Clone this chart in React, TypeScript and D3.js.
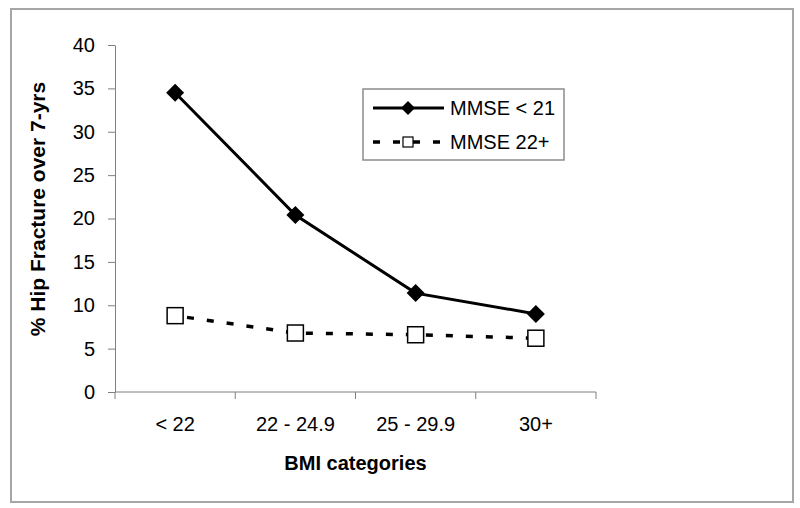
import React, { useEffect, useRef } from 'react';
import * as d3 from 'd3';

const categories = ['< 22', '22 - 24.9', '25 - 29.9', '30+'];
const mmseLow = [34.5, 20.4, 11.4, 9.0];
const mmseHigh = [8.8, 6.8, 6.6, 6.2];
const yTicks = [0, 5, 10, 15, 20, 25, 30, 35, 40];
const seriesNames = ['MMSE < 21', 'MMSE 22+'];

const FONT = '"Liberation Sans", Arial, sans-serif';

const diamondPath = (r) => `M0,${-r}L${r},0L0,${r}L${-r},0Z`;

const App = () => {
    const ref = useRef<SVGSVGElement>(null);

    const graph = () => {
        const svg = d3.select(ref.current);
        svg.selectAll('*').remove();

        const width = 800, height = 508;
        const margin = { top: 45, right: 204, bottom: 116, left: 115 };

        // outer frame
        svg.append('rect')
            .attr('x', 11).attr('y', 9)
            .attr('width', 782).attr('height', 493)
            .attr('fill', '#fff')
            .attr('stroke', '#a6a6a6')
            .attr('stroke-width', 2);

        const x = d3.scaleBand().domain(categories)
            .range([margin.left, width - margin.right])
            .padding(0);

        const y = d3.scaleLinear().domain([0, 40])
            .range([height - margin.bottom, margin.top]);

        const cx = (c) => (x(c) as number) + x.bandwidth() / 2;

        // y axis
        const yAxis = svg.append('g')
            .attr('transform', `translate(${margin.left},0)`)
            .call(d3.axisLeft(y).tickValues(yTicks).tickSize(7).tickPadding(13).tickSizeOuter(0));
        yAxis.selectAll('path, line').attr('stroke', '#808080');
        yAxis.selectAll('text')
            .style('font-family', FONT).style('font-size', '20px').attr('fill', '#000');

        // x axis line with ticks at category boundaries
        const xg = svg.append('g');
        xg.append('line')
            .attr('x1', margin.left).attr('x2', width - margin.right)
            .attr('y1', y(0)).attr('y2', y(0))
            .attr('stroke', '#808080');
        const bounds = categories.map(c => x(c) as number).concat([width - margin.right]);
        xg.selectAll('line.tick').data(bounds).enter().append('line')
            .attr('class', 'tick')
            .attr('x1', d => d).attr('x2', d => d)
            .attr('y1', y(0)).attr('y2', y(0) + 7)
            .attr('stroke', '#808080');
        xg.selectAll('text').data(categories).enter().append('text')
            .attr('x', d => cx(d))
            .attr('y', y(0) + 39)
            .attr('text-anchor', 'middle')
            .style('font-family', FONT).style('font-size', '20px')
            .text(d => d);

        // axis titles
        svg.append('text')
            .attr('x', (margin.left + width - margin.right) / 2)
            .attr('y', 470)
            .attr('text-anchor', 'middle')
            .style('font-family', FONT).style('font-size', '20px').style('font-weight', '700')
            .text('BMI categories');

        svg.append('text')
            .attr('transform', 'translate(45,209) rotate(-90)')
            .attr('text-anchor', 'middle')
            .style('font-family', FONT).style('font-size', '21px').style('font-weight', '700')
            .text('% Hip Fracture over 7-yrs');

        const line = d3.line<number>()
            .x((d, i) => cx(categories[i]))
            .y(d => y(d));

        // dashed series
        svg.append('path')
            .datum(mmseHigh)
            .attr('d', line)
            .attr('fill', 'none')
            .attr('stroke', '#000')
            .attr('stroke-width', 3.5)
            .attr('stroke-dasharray', '7,13')
            .attr('stroke-dashoffset', -12);

        svg.selectAll('rect.sq').data(mmseHigh).enter().append('rect')
            .attr('class', 'sq')
            .attr('x', (d, i) => cx(categories[i]) - 8)
            .attr('y', d => y(d) - 8)
            .attr('width', 16).attr('height', 16)
            .attr('fill', '#fff')
            .attr('stroke', '#000')
            .attr('stroke-width', 1.5);

        // solid series
        svg.append('path')
            .datum(mmseLow)
            .attr('d', line)
            .attr('fill', 'none')
            .attr('stroke', '#000')
            .attr('stroke-width', 3);

        svg.selectAll('path.dia').data(mmseLow).enter().append('path')
            .attr('class', 'dia')
            .attr('d', diamondPath(9))
            .attr('transform', (d, i) => `translate(${cx(categories[i])},${y(d)})`)
            .attr('fill', '#000');

        // legend
        const lg = svg.append('g');
        lg.append('rect')
            .attr('x', 363).attr('y', 89)
            .attr('width', 201).attr('height', 71)
            .attr('fill', '#fff')
            .attr('stroke', '#8c8c8c')
            .attr('stroke-width', 1.5);

        const rows = [108, 142];
        lg.append('line')
            .attr('x1', 373).attr('x2', 444)
            .attr('y1', rows[0]).attr('y2', rows[0])
            .attr('stroke', '#000').attr('stroke-width', 3);
        lg.append('path')
            .attr('d', diamondPath(7))
            .attr('transform', `translate(408,${rows[0]})`)
            .attr('fill', '#000');

        lg.append('line')
            .attr('x1', 373).attr('x2', 444)
            .attr('y1', rows[1]).attr('y2', rows[1])
            .attr('stroke', '#000').attr('stroke-width', 3.5)
            .attr('stroke-dasharray', '7,13');
        lg.append('rect')
            .attr('x', 403).attr('y', rows[1] - 5)
            .attr('width', 10).attr('height', 10)
            .attr('fill', '#fff').attr('stroke', '#000').attr('stroke-width', 1.2);

        lg.selectAll('text.lg').data(seriesNames).enter().append('text')
            .attr('class', 'lg')
            .attr('x', 450)
            .attr('y', (d, i) => rows[i] + 7)
            .style('font-family', FONT).style('font-size', '20px')
            .text(d => d);
    };

    useEffect(() => graph());

    return (
        <svg ref={ref} width="800" height="508"
            style={{ position: 'absolute', left: 0, top: 0, background: '#fff' }}></svg>
    );
};

export default App;
